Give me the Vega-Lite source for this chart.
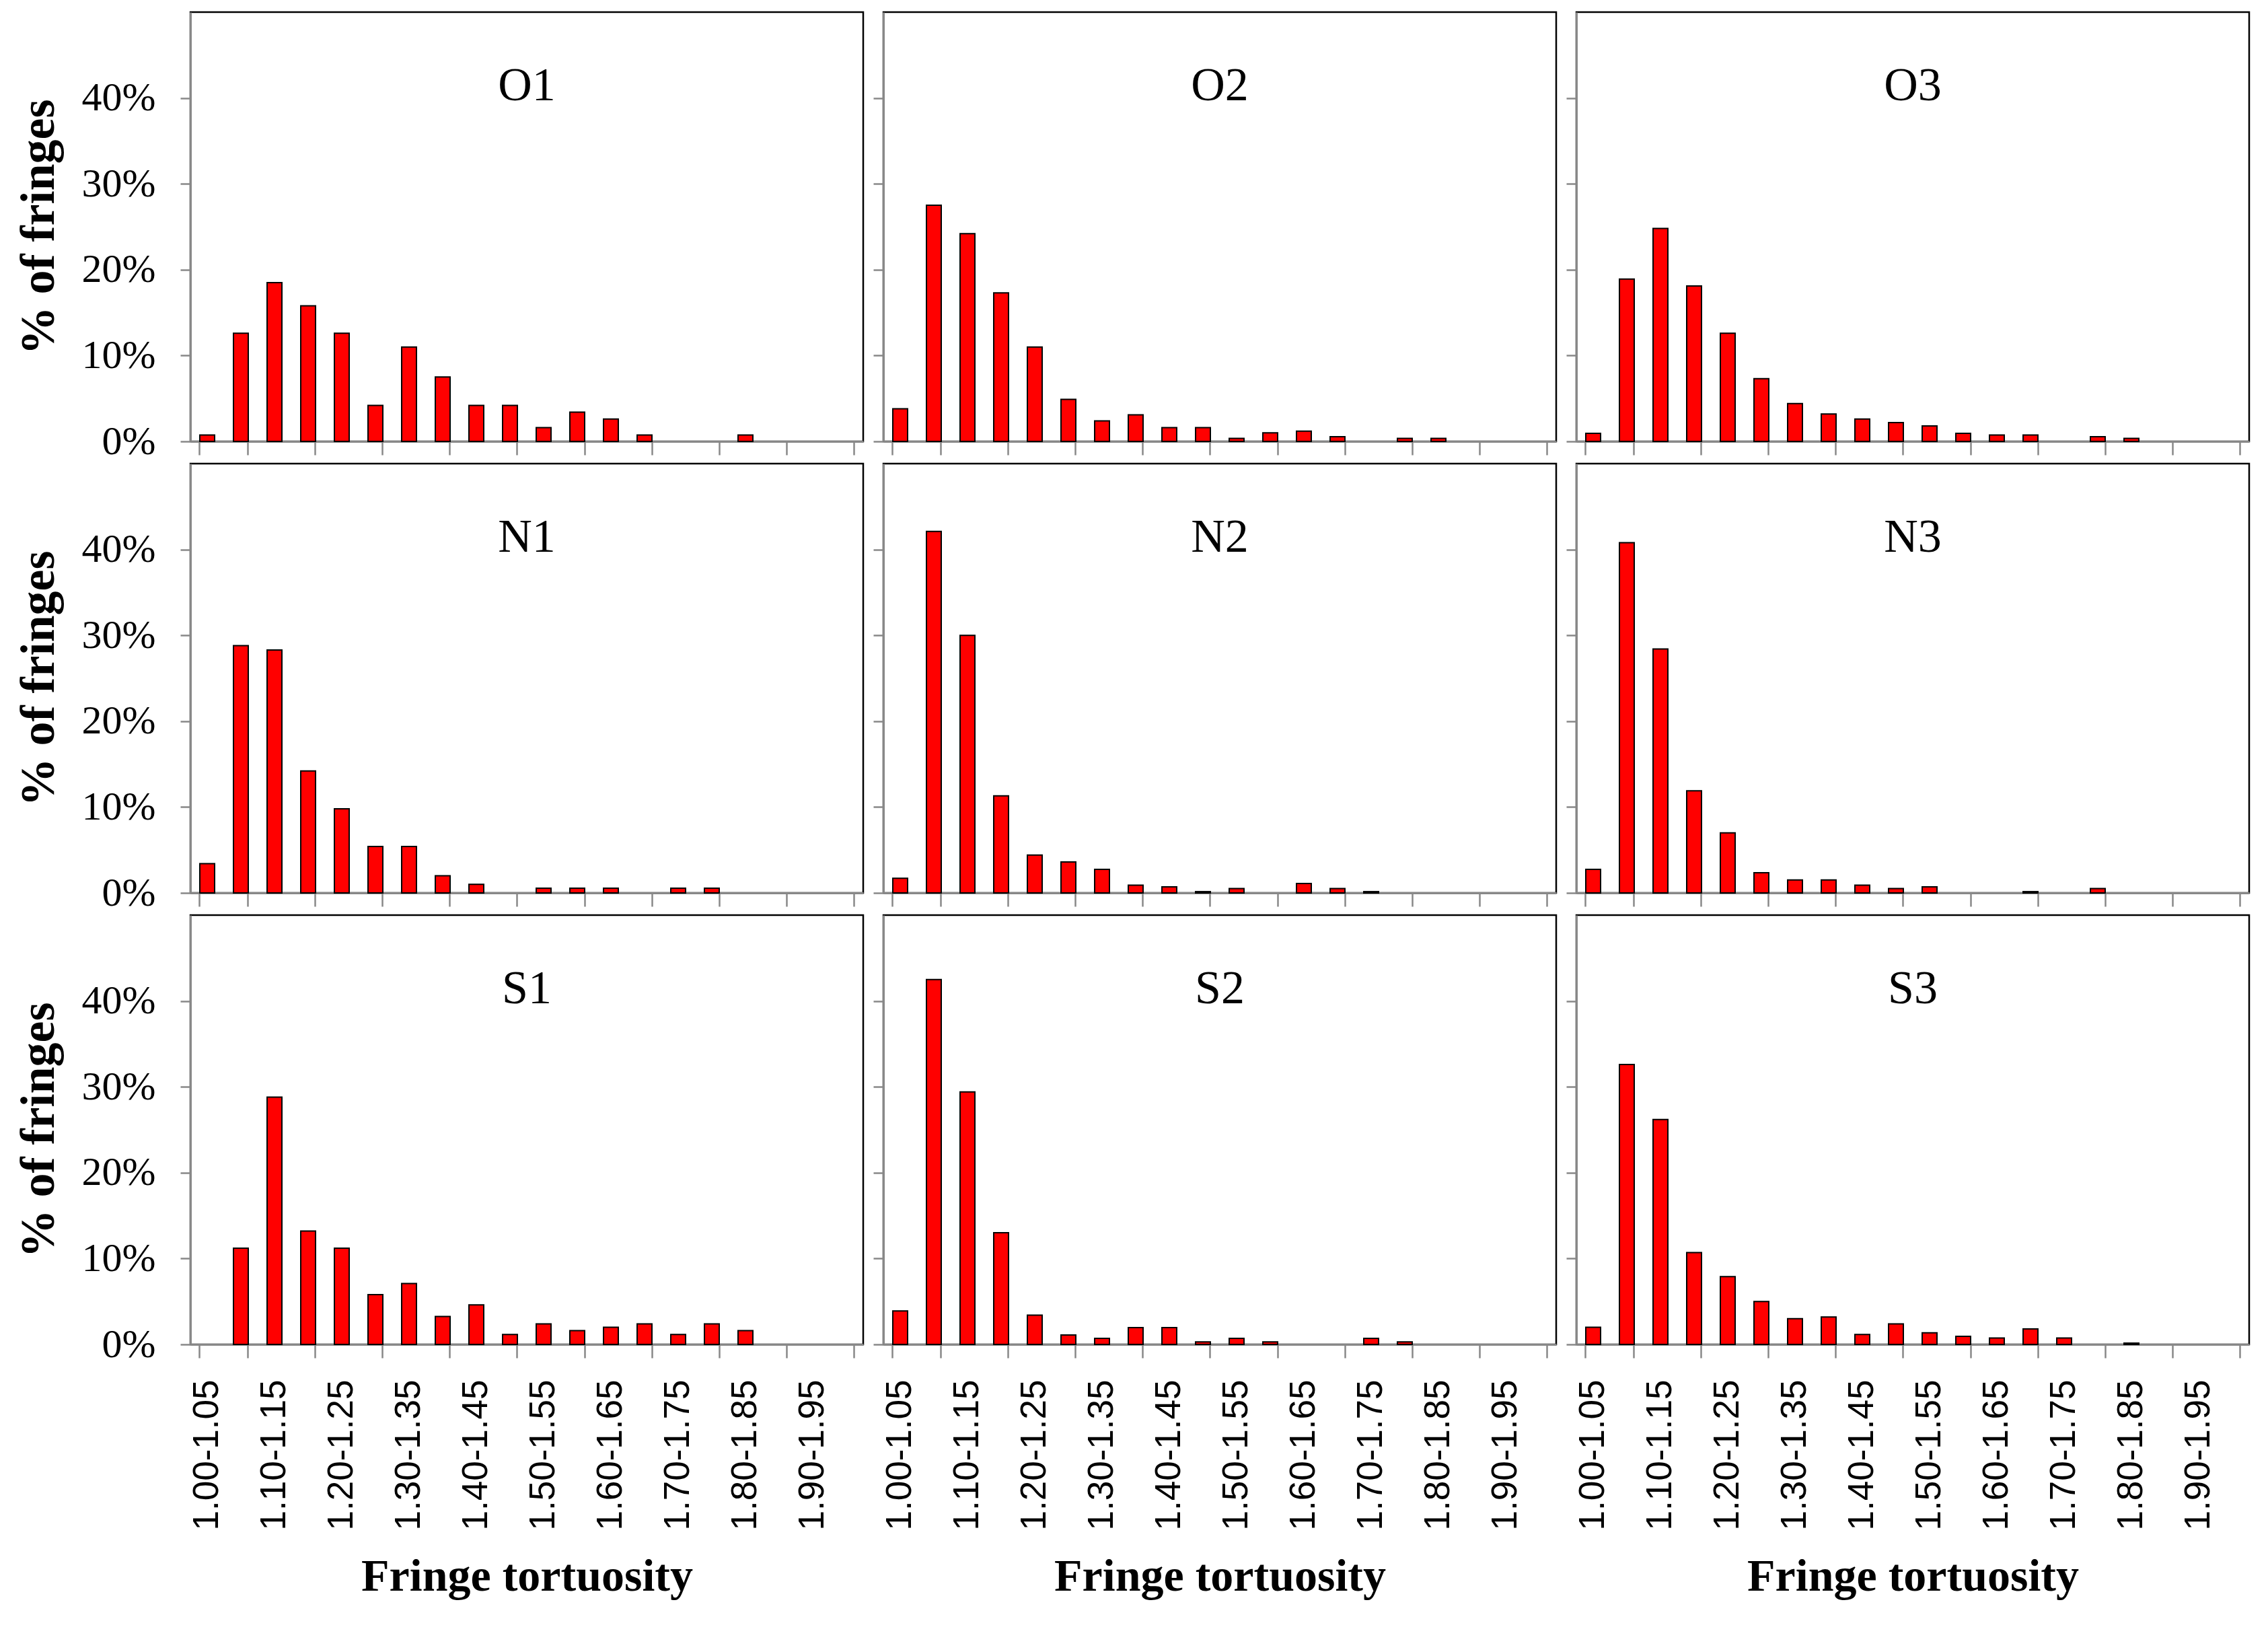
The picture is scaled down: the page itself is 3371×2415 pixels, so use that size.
{
"$schema":"https://vega.github.io/schema/vega-lite/v6.json",
"background":"#ffffff",
"padding":{"left":19,"top":16,"right":5,"bottom":5},
"data":{"values":[
{"site":"O1","bin":"1.00-1.05","pct":0.75},{"site":"O1","bin":"1.05-1.10","pct":12.6},{"site":"O1","bin":"1.10-1.15","pct":18.5},{"site":"O1","bin":"1.15-1.20","pct":15.8},{"site":"O1","bin":"1.20-1.25","pct":12.6},{"site":"O1","bin":"1.25-1.30","pct":4.2},{"site":"O1","bin":"1.30-1.35","pct":11.0},{"site":"O1","bin":"1.35-1.40","pct":7.5},{"site":"O1","bin":"1.40-1.45","pct":4.2},{"site":"O1","bin":"1.45-1.50","pct":4.2},{"site":"O1","bin":"1.50-1.55","pct":1.6},{"site":"O1","bin":"1.55-1.60","pct":3.4},{"site":"O1","bin":"1.60-1.65","pct":2.6},{"site":"O1","bin":"1.65-1.70","pct":0.75},{"site":"O1","bin":"1.80-1.85","pct":0.75},
{"site":"O2","bin":"1.00-1.05","pct":3.8},{"site":"O2","bin":"1.05-1.10","pct":27.5},{"site":"O2","bin":"1.10-1.15","pct":24.2},{"site":"O2","bin":"1.15-1.20","pct":17.3},{"site":"O2","bin":"1.20-1.25","pct":11.0},{"site":"O2","bin":"1.25-1.30","pct":4.9},{"site":"O2","bin":"1.30-1.35","pct":2.4},{"site":"O2","bin":"1.35-1.40","pct":3.1},{"site":"O2","bin":"1.40-1.45","pct":1.6},{"site":"O2","bin":"1.45-1.50","pct":1.6},{"site":"O2","bin":"1.50-1.55","pct":0.35},{"site":"O2","bin":"1.55-1.60","pct":1.0},{"site":"O2","bin":"1.60-1.65","pct":1.2},{"site":"O2","bin":"1.65-1.70","pct":0.55},{"site":"O2","bin":"1.75-1.80","pct":0.35},{"site":"O2","bin":"1.80-1.85","pct":0.35},
{"site":"O3","bin":"1.00-1.05","pct":0.95},{"site":"O3","bin":"1.05-1.10","pct":18.9},{"site":"O3","bin":"1.10-1.15","pct":24.8},{"site":"O3","bin":"1.15-1.20","pct":18.1},{"site":"O3","bin":"1.20-1.25","pct":12.6},{"site":"O3","bin":"1.25-1.30","pct":7.3},{"site":"O3","bin":"1.30-1.35","pct":4.4},{"site":"O3","bin":"1.35-1.40","pct":3.2},{"site":"O3","bin":"1.40-1.45","pct":2.6},{"site":"O3","bin":"1.45-1.50","pct":2.2},{"site":"O3","bin":"1.50-1.55","pct":1.8},{"site":"O3","bin":"1.55-1.60","pct":0.95},{"site":"O3","bin":"1.60-1.65","pct":0.75},{"site":"O3","bin":"1.65-1.70","pct":0.75},{"site":"O3","bin":"1.75-1.80","pct":0.55},{"site":"O3","bin":"1.80-1.85","pct":0.35},
{"site":"N1","bin":"1.00-1.05","pct":3.4},{"site":"N1","bin":"1.05-1.10","pct":28.8},{"site":"N1","bin":"1.10-1.15","pct":28.3},{"site":"N1","bin":"1.15-1.20","pct":14.2},{"site":"N1","bin":"1.20-1.25","pct":9.8},{"site":"N1","bin":"1.25-1.30","pct":5.4},{"site":"N1","bin":"1.30-1.35","pct":5.4},{"site":"N1","bin":"1.35-1.40","pct":2.0},{"site":"N1","bin":"1.40-1.45","pct":1.0},{"site":"N1","bin":"1.50-1.55","pct":0.55},{"site":"N1","bin":"1.55-1.60","pct":0.55},{"site":"N1","bin":"1.60-1.65","pct":0.55},{"site":"N1","bin":"1.70-1.75","pct":0.55},{"site":"N1","bin":"1.75-1.80","pct":0.55},
{"site":"N2","bin":"1.00-1.05","pct":1.7},{"site":"N2","bin":"1.05-1.10","pct":42.1},{"site":"N2","bin":"1.10-1.15","pct":30.0},{"site":"N2","bin":"1.15-1.20","pct":11.3},{"site":"N2","bin":"1.20-1.25","pct":4.4},{"site":"N2","bin":"1.25-1.30","pct":3.6},{"site":"N2","bin":"1.30-1.35","pct":2.75},{"site":"N2","bin":"1.35-1.40","pct":0.9},{"site":"N2","bin":"1.40-1.45","pct":0.7},{"site":"N2","bin":"1.45-1.50","pct":0.15},{"site":"N2","bin":"1.50-1.55","pct":0.5},{"site":"N2","bin":"1.60-1.65","pct":1.1},{"site":"N2","bin":"1.65-1.70","pct":0.5},{"site":"N2","bin":"1.70-1.75","pct":0.15},
{"site":"N3","bin":"1.00-1.05","pct":2.75},{"site":"N3","bin":"1.05-1.10","pct":40.8},{"site":"N3","bin":"1.10-1.15","pct":28.4},{"site":"N3","bin":"1.15-1.20","pct":11.9},{"site":"N3","bin":"1.20-1.25","pct":7.0},{"site":"N3","bin":"1.25-1.30","pct":2.35},{"site":"N3","bin":"1.30-1.35","pct":1.5},{"site":"N3","bin":"1.35-1.40","pct":1.5},{"site":"N3","bin":"1.40-1.45","pct":0.9},{"site":"N3","bin":"1.45-1.50","pct":0.5},{"site":"N3","bin":"1.50-1.55","pct":0.7},{"site":"N3","bin":"1.65-1.70","pct":0.15},{"site":"N3","bin":"1.75-1.80","pct":0.5},
{"site":"S1","bin":"1.05-1.10","pct":11.2},{"site":"S1","bin":"1.10-1.15","pct":28.8},{"site":"S1","bin":"1.15-1.20","pct":13.2},{"site":"S1","bin":"1.20-1.25","pct":11.2},{"site":"S1","bin":"1.25-1.30","pct":5.8},{"site":"S1","bin":"1.30-1.35","pct":7.1},{"site":"S1","bin":"1.35-1.40","pct":3.25},{"site":"S1","bin":"1.40-1.45","pct":4.6},{"site":"S1","bin":"1.45-1.50","pct":1.15},{"site":"S1","bin":"1.50-1.55","pct":2.4},{"site":"S1","bin":"1.55-1.60","pct":1.6},{"site":"S1","bin":"1.60-1.65","pct":2.0},{"site":"S1","bin":"1.65-1.70","pct":2.4},{"site":"S1","bin":"1.70-1.75","pct":1.15},{"site":"S1","bin":"1.75-1.80","pct":2.4},{"site":"S1","bin":"1.80-1.85","pct":1.6},
{"site":"S2","bin":"1.00-1.05","pct":3.9},{"site":"S2","bin":"1.05-1.10","pct":42.5},{"site":"S2","bin":"1.10-1.15","pct":29.4},{"site":"S2","bin":"1.15-1.20","pct":13.0},{"site":"S2","bin":"1.20-1.25","pct":3.4},{"site":"S2","bin":"1.25-1.30","pct":1.1},{"site":"S2","bin":"1.30-1.35","pct":0.7},{"site":"S2","bin":"1.35-1.40","pct":1.95},{"site":"S2","bin":"1.40-1.45","pct":1.95},{"site":"S2","bin":"1.45-1.50","pct":0.3},{"site":"S2","bin":"1.50-1.55","pct":0.7},{"site":"S2","bin":"1.55-1.60","pct":0.3},{"site":"S2","bin":"1.70-1.75","pct":0.7},{"site":"S2","bin":"1.75-1.80","pct":0.3},
{"site":"S3","bin":"1.00-1.05","pct":2.0},{"site":"S3","bin":"1.05-1.10","pct":32.6},{"site":"S3","bin":"1.10-1.15","pct":26.2},{"site":"S3","bin":"1.15-1.20","pct":10.7},{"site":"S3","bin":"1.20-1.25","pct":7.9},{"site":"S3","bin":"1.25-1.30","pct":5.0},{"site":"S3","bin":"1.30-1.35","pct":3.0},{"site":"S3","bin":"1.35-1.40","pct":3.2},{"site":"S3","bin":"1.40-1.45","pct":1.15},{"site":"S3","bin":"1.45-1.50","pct":2.4},{"site":"S3","bin":"1.50-1.55","pct":1.35},{"site":"S3","bin":"1.55-1.60","pct":0.95},{"site":"S3","bin":"1.60-1.65","pct":0.75},{"site":"S3","bin":"1.65-1.70","pct":1.8},{"site":"S3","bin":"1.70-1.75","pct":0.75},{"site":"S3","bin":"1.80-1.85","pct":0.15}
]},
"resolve":{"scale":{"x":"independent","y":"independent"}},
"columns":3,
"bounds":"flush",
"spacing":{"row":33,"column":30},
"concat":[
{"width":1000,"height":638,"transform":[{"filter":"datum.site === 'O1'"}],"title":{"text":"O1"},
 "mark":{"type":"bar","fill":"#ff0000","stroke":"#000000","strokeWidth":2},
 "encoding":{
  "x":{"field":"bin","type":"nominal","sort":null,"scale":{"domain":["1.00-1.05","1.05-1.10","1.10-1.15","1.15-1.20","1.20-1.25","1.25-1.30","1.30-1.35","1.35-1.40","1.40-1.45","1.45-1.50","1.50-1.55","1.55-1.60","1.60-1.65","1.65-1.70","1.70-1.75","1.75-1.80","1.80-1.85","1.85-1.90","1.90-1.95","1.95-2.00"],"paddingInner":0.56,"paddingOuter":0.28},
   "axis":{"title":null,"labels":false,"bandPosition":1,"tickExtra":true,"tickSize":20,"tickColor":"#888888","tickWidth":2.5,"domainColor":"#888888","domainWidth":3,"tickOpacity":{"condition":{"test":"datum.extra || datum.value == null || substring(datum.value,3,4) === '5'","value":1},"value":0}}},
  "y":{"field":"pct","type":"quantitative","scale":{"domain":[0,50]},
   "axis":{"values":[0,10,20,30,40],"labelExpr":"datum.value + '%'","title":"% of fringes","titleFont":"Liberation Serif","titleFontWeight":"bold","titleFontSize":72,"titleColor":"#000000","titlePadding":21,"labelFont":"Liberation Serif","labelFontSize":60,"labelColor":"#000000","labelPadding":37,"tickSize":15,"tickColor":"#888888","tickWidth":2.5,"domainColor":"#888888","domainWidth":3,"grid":false,"minExtent":168,"maxExtent":168}}}},
{"width":1000,"height":638,"transform":[{"filter":"datum.site === 'O2'"}],"title":{"text":"O2"},
 "mark":{"type":"bar","fill":"#ff0000","stroke":"#000000","strokeWidth":2},
 "encoding":{
  "x":{"field":"bin","type":"nominal","sort":null,"scale":{"domain":["1.00-1.05","1.05-1.10","1.10-1.15","1.15-1.20","1.20-1.25","1.25-1.30","1.30-1.35","1.35-1.40","1.40-1.45","1.45-1.50","1.50-1.55","1.55-1.60","1.60-1.65","1.65-1.70","1.70-1.75","1.75-1.80","1.80-1.85","1.85-1.90","1.90-1.95","1.95-2.00"],"paddingInner":0.56,"paddingOuter":0.28},
   "axis":{"title":null,"labels":false,"bandPosition":1,"tickExtra":true,"tickSize":20,"tickColor":"#888888","tickWidth":2.5,"domainColor":"#888888","domainWidth":3,"tickOpacity":{"condition":{"test":"datum.extra || datum.value == null || substring(datum.value,3,4) === '5'","value":1},"value":0}}},
  "y":{"field":"pct","type":"quantitative","scale":{"domain":[0,50]},
   "axis":{"values":[0,10,20,30,40],"labels":false,"title":null,"tickSize":15,"tickColor":"#888888","tickWidth":2.5,"domainColor":"#888888","domainWidth":3,"grid":false,"minExtent":0,"maxExtent":15}}}},
{"width":1000,"height":638,"transform":[{"filter":"datum.site === 'O3'"}],"title":{"text":"O3"},
 "mark":{"type":"bar","fill":"#ff0000","stroke":"#000000","strokeWidth":2},
 "encoding":{
  "x":{"field":"bin","type":"nominal","sort":null,"scale":{"domain":["1.00-1.05","1.05-1.10","1.10-1.15","1.15-1.20","1.20-1.25","1.25-1.30","1.30-1.35","1.35-1.40","1.40-1.45","1.45-1.50","1.50-1.55","1.55-1.60","1.60-1.65","1.65-1.70","1.70-1.75","1.75-1.80","1.80-1.85","1.85-1.90","1.90-1.95","1.95-2.00"],"paddingInner":0.56,"paddingOuter":0.28},
   "axis":{"title":null,"labels":false,"bandPosition":1,"tickExtra":true,"tickSize":20,"tickColor":"#888888","tickWidth":2.5,"domainColor":"#888888","domainWidth":3,"tickOpacity":{"condition":{"test":"datum.extra || datum.value == null || substring(datum.value,3,4) === '5'","value":1},"value":0}}},
  "y":{"field":"pct","type":"quantitative","scale":{"domain":[0,50]},
   "axis":{"values":[0,10,20,30,40],"labels":false,"title":null,"tickSize":15,"tickColor":"#888888","tickWidth":2.5,"domainColor":"#888888","domainWidth":3,"grid":false,"minExtent":0,"maxExtent":15}}}},
{"width":1000,"height":638,"transform":[{"filter":"datum.site === 'N1'"}],"title":{"text":"N1"},
 "mark":{"type":"bar","fill":"#ff0000","stroke":"#000000","strokeWidth":2},
 "encoding":{
  "x":{"field":"bin","type":"nominal","sort":null,"scale":{"domain":["1.00-1.05","1.05-1.10","1.10-1.15","1.15-1.20","1.20-1.25","1.25-1.30","1.30-1.35","1.35-1.40","1.40-1.45","1.45-1.50","1.50-1.55","1.55-1.60","1.60-1.65","1.65-1.70","1.70-1.75","1.75-1.80","1.80-1.85","1.85-1.90","1.90-1.95","1.95-2.00"],"paddingInner":0.56,"paddingOuter":0.28},
   "axis":{"title":null,"labels":false,"bandPosition":1,"tickExtra":true,"tickSize":20,"tickColor":"#888888","tickWidth":2.5,"domainColor":"#888888","domainWidth":3,"tickOpacity":{"condition":{"test":"datum.extra || datum.value == null || substring(datum.value,3,4) === '5'","value":1},"value":0}}},
  "y":{"field":"pct","type":"quantitative","scale":{"domain":[0,50]},
   "axis":{"values":[0,10,20,30,40],"labelExpr":"datum.value + '%'","title":"% of fringes","titleFont":"Liberation Serif","titleFontWeight":"bold","titleFontSize":72,"titleColor":"#000000","titlePadding":21,"labelFont":"Liberation Serif","labelFontSize":60,"labelColor":"#000000","labelPadding":37,"tickSize":15,"tickColor":"#888888","tickWidth":2.5,"domainColor":"#888888","domainWidth":3,"grid":false,"minExtent":168,"maxExtent":168}}}},
{"width":1000,"height":638,"transform":[{"filter":"datum.site === 'N2'"}],"title":{"text":"N2"},
 "mark":{"type":"bar","fill":"#ff0000","stroke":"#000000","strokeWidth":2},
 "encoding":{
  "x":{"field":"bin","type":"nominal","sort":null,"scale":{"domain":["1.00-1.05","1.05-1.10","1.10-1.15","1.15-1.20","1.20-1.25","1.25-1.30","1.30-1.35","1.35-1.40","1.40-1.45","1.45-1.50","1.50-1.55","1.55-1.60","1.60-1.65","1.65-1.70","1.70-1.75","1.75-1.80","1.80-1.85","1.85-1.90","1.90-1.95","1.95-2.00"],"paddingInner":0.56,"paddingOuter":0.28},
   "axis":{"title":null,"labels":false,"bandPosition":1,"tickExtra":true,"tickSize":20,"tickColor":"#888888","tickWidth":2.5,"domainColor":"#888888","domainWidth":3,"tickOpacity":{"condition":{"test":"datum.extra || datum.value == null || substring(datum.value,3,4) === '5'","value":1},"value":0}}},
  "y":{"field":"pct","type":"quantitative","scale":{"domain":[0,50]},
   "axis":{"values":[0,10,20,30,40],"labels":false,"title":null,"tickSize":15,"tickColor":"#888888","tickWidth":2.5,"domainColor":"#888888","domainWidth":3,"grid":false,"minExtent":0,"maxExtent":15}}}},
{"width":1000,"height":638,"transform":[{"filter":"datum.site === 'N3'"}],"title":{"text":"N3"},
 "mark":{"type":"bar","fill":"#ff0000","stroke":"#000000","strokeWidth":2},
 "encoding":{
  "x":{"field":"bin","type":"nominal","sort":null,"scale":{"domain":["1.00-1.05","1.05-1.10","1.10-1.15","1.15-1.20","1.20-1.25","1.25-1.30","1.30-1.35","1.35-1.40","1.40-1.45","1.45-1.50","1.50-1.55","1.55-1.60","1.60-1.65","1.65-1.70","1.70-1.75","1.75-1.80","1.80-1.85","1.85-1.90","1.90-1.95","1.95-2.00"],"paddingInner":0.56,"paddingOuter":0.28},
   "axis":{"title":null,"labels":false,"bandPosition":1,"tickExtra":true,"tickSize":20,"tickColor":"#888888","tickWidth":2.5,"domainColor":"#888888","domainWidth":3,"tickOpacity":{"condition":{"test":"datum.extra || datum.value == null || substring(datum.value,3,4) === '5'","value":1},"value":0}}},
  "y":{"field":"pct","type":"quantitative","scale":{"domain":[0,50]},
   "axis":{"values":[0,10,20,30,40],"labels":false,"title":null,"tickSize":15,"tickColor":"#888888","tickWidth":2.5,"domainColor":"#888888","domainWidth":3,"grid":false,"minExtent":0,"maxExtent":15}}}},
{"width":1000,"height":638,"transform":[{"filter":"datum.site === 'S1'"}],"title":{"text":"S1"},
 "mark":{"type":"bar","fill":"#ff0000","stroke":"#000000","strokeWidth":2},
 "encoding":{
  "x":{"field":"bin","type":"nominal","sort":null,"scale":{"domain":["1.00-1.05","1.05-1.10","1.10-1.15","1.15-1.20","1.20-1.25","1.25-1.30","1.30-1.35","1.35-1.40","1.40-1.45","1.45-1.50","1.50-1.55","1.55-1.60","1.60-1.65","1.65-1.70","1.70-1.75","1.75-1.80","1.80-1.85","1.85-1.90","1.90-1.95","1.95-2.00"],"paddingInner":0.56,"paddingOuter":0.28},
   "axis":{"title":"Fringe tortuosity","titleFont":"Liberation Serif","titleFontWeight":"bold","titleFontSize":68,"titleColor":"#000000","titlePadding":31,"labels":true,"labelExpr":"substring(datum.label,3,4) === '0' ? datum.label : ''","labelAngle":-90,"labelFont":"Liberation Sans","labelFontSize":53,"labelColor":"#000000","labelPadding":32,"labelLimit":0,"labelOverlap":false,"labelFlush":false,"minExtent":280,"maxExtent":280,"bandPosition":1,"tickExtra":true,"tickSize":20,"tickColor":"#888888","tickWidth":2.5,"domainColor":"#888888","domainWidth":3,"tickOpacity":{"condition":{"test":"datum.extra || datum.value == null || substring(datum.value,3,4) === '5'","value":1},"value":0}}},
  "y":{"field":"pct","type":"quantitative","scale":{"domain":[0,50]},
   "axis":{"values":[0,10,20,30,40],"labelExpr":"datum.value + '%'","title":"% of fringes","titleFont":"Liberation Serif","titleFontWeight":"bold","titleFontSize":72,"titleColor":"#000000","titlePadding":21,"labelFont":"Liberation Serif","labelFontSize":60,"labelColor":"#000000","labelPadding":37,"tickSize":15,"tickColor":"#888888","tickWidth":2.5,"domainColor":"#888888","domainWidth":3,"grid":false,"minExtent":168,"maxExtent":168}}}},
{"width":1000,"height":638,"transform":[{"filter":"datum.site === 'S2'"}],"title":{"text":"S2"},
 "mark":{"type":"bar","fill":"#ff0000","stroke":"#000000","strokeWidth":2},
 "encoding":{
  "x":{"field":"bin","type":"nominal","sort":null,"scale":{"domain":["1.00-1.05","1.05-1.10","1.10-1.15","1.15-1.20","1.20-1.25","1.25-1.30","1.30-1.35","1.35-1.40","1.40-1.45","1.45-1.50","1.50-1.55","1.55-1.60","1.60-1.65","1.65-1.70","1.70-1.75","1.75-1.80","1.80-1.85","1.85-1.90","1.90-1.95","1.95-2.00"],"paddingInner":0.56,"paddingOuter":0.28},
   "axis":{"title":"Fringe tortuosity","titleFont":"Liberation Serif","titleFontWeight":"bold","titleFontSize":68,"titleColor":"#000000","titlePadding":31,"labels":true,"labelExpr":"substring(datum.label,3,4) === '0' ? datum.label : ''","labelAngle":-90,"labelFont":"Liberation Sans","labelFontSize":53,"labelColor":"#000000","labelPadding":32,"labelLimit":0,"labelOverlap":false,"labelFlush":false,"minExtent":280,"maxExtent":280,"bandPosition":1,"tickExtra":true,"tickSize":20,"tickColor":"#888888","tickWidth":2.5,"domainColor":"#888888","domainWidth":3,"tickOpacity":{"condition":{"test":"datum.extra || datum.value == null || substring(datum.value,3,4) === '5'","value":1},"value":0}}},
  "y":{"field":"pct","type":"quantitative","scale":{"domain":[0,50]},
   "axis":{"values":[0,10,20,30,40],"labels":false,"title":null,"tickSize":15,"tickColor":"#888888","tickWidth":2.5,"domainColor":"#888888","domainWidth":3,"grid":false,"minExtent":0,"maxExtent":15}}}},
{"width":1000,"height":638,"transform":[{"filter":"datum.site === 'S3'"}],"title":{"text":"S3"},
 "mark":{"type":"bar","fill":"#ff0000","stroke":"#000000","strokeWidth":2},
 "encoding":{
  "x":{"field":"bin","type":"nominal","sort":null,"scale":{"domain":["1.00-1.05","1.05-1.10","1.10-1.15","1.15-1.20","1.20-1.25","1.25-1.30","1.30-1.35","1.35-1.40","1.40-1.45","1.45-1.50","1.50-1.55","1.55-1.60","1.60-1.65","1.65-1.70","1.70-1.75","1.75-1.80","1.80-1.85","1.85-1.90","1.90-1.95","1.95-2.00"],"paddingInner":0.56,"paddingOuter":0.28},
   "axis":{"title":"Fringe tortuosity","titleFont":"Liberation Serif","titleFontWeight":"bold","titleFontSize":68,"titleColor":"#000000","titlePadding":31,"labels":true,"labelExpr":"substring(datum.label,3,4) === '0' ? datum.label : ''","labelAngle":-90,"labelFont":"Liberation Sans","labelFontSize":53,"labelColor":"#000000","labelPadding":32,"labelLimit":0,"labelOverlap":false,"labelFlush":false,"minExtent":280,"maxExtent":280,"bandPosition":1,"tickExtra":true,"tickSize":20,"tickColor":"#888888","tickWidth":2.5,"domainColor":"#888888","domainWidth":3,"tickOpacity":{"condition":{"test":"datum.extra || datum.value == null || substring(datum.value,3,4) === '5'","value":1},"value":0}}},
  "y":{"field":"pct","type":"quantitative","scale":{"domain":[0,50]},
   "axis":{"values":[0,10,20,30,40],"labels":false,"title":null,"tickSize":15,"tickColor":"#888888","tickWidth":2.5,"domainColor":"#888888","domainWidth":3,"grid":false,"minExtent":0,"maxExtent":15}}}}
],
"config":{
 "view":{"stroke":"#000000","strokeWidth":2.5},
 "axis":{"grid":false},
 "title":{"font":"Liberation Serif","fontSize":70,"fontWeight":"normal","color":"#000000","anchor":"middle","frame":"group","offset":-146,"baseline":"alphabetic"}
}
}
